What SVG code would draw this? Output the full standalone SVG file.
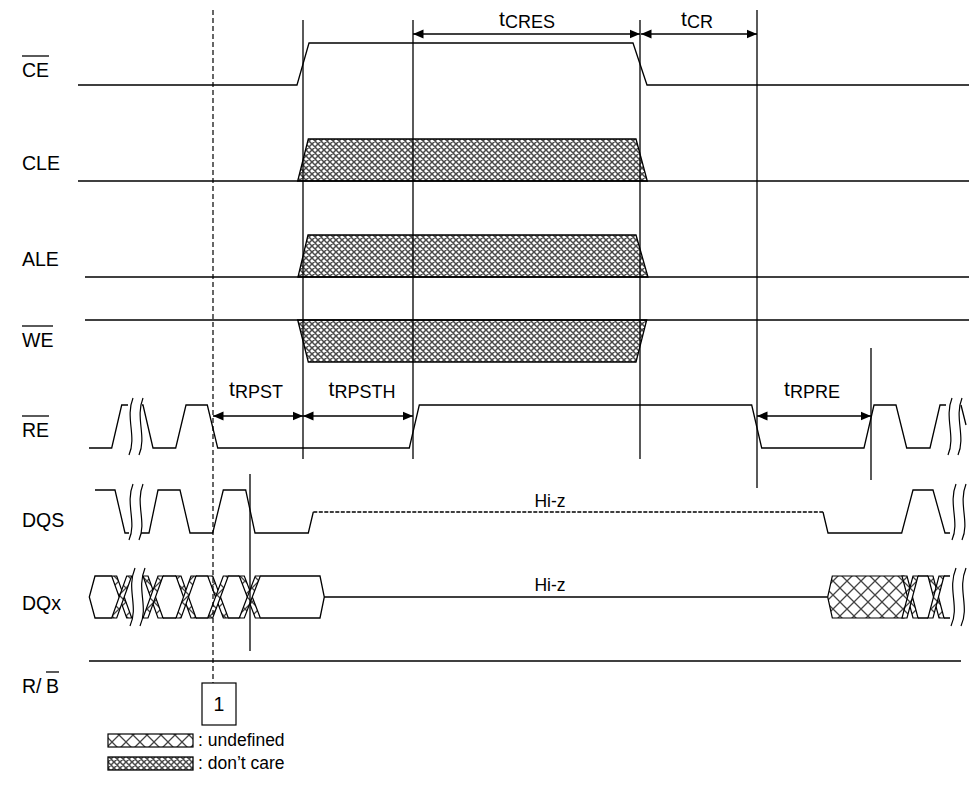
<svg xmlns="http://www.w3.org/2000/svg" width="969" height="789" viewBox="0 0 969 789">
<style>
.w{fill:none;stroke:#000;stroke-width:1.3}
.v{stroke:#000;stroke-width:1.3;fill:none}
.lbl{font-family:"Liberation Sans",Arial,sans-serif;font-size:19.5px;fill:#000}
.txt{font-family:"Liberation Sans",Arial,sans-serif;font-size:17.5px;fill:#000}
.tl{font-family:"Liberation Sans",Arial,sans-serif;font-size:21px;fill:#000}
.sub{font-size:18px}
.dc{fill:url(#dc);stroke:#000;stroke-width:1.3}
.ud{fill:url(#ud);stroke:#000;stroke-width:1.2}
.sq{fill:none;stroke:#000;stroke-width:1.2}
.arr{stroke:#000;stroke-width:1.3;marker-start:url(#ah);marker-end:url(#ah)}
</style>
<defs>
<pattern id="dc" width="6" height="6" patternUnits="userSpaceOnUse">
<rect width="6" height="6" fill="#fff"/>
<path d="M0,0 L6,6 M6,0 L0,6 M-1,5 L1,7 M5,-1 L7,1 M-1,1 L1,-1 M5,7 L7,5" stroke="#4a4a4a" stroke-width="1.5"/>
</pattern>
<pattern id="ud" width="14" height="14" patternUnits="userSpaceOnUse">
<rect width="14" height="14" fill="#fff"/>
<path d="M0,0 L14,14 M14,0 L0,14" stroke="#444" stroke-width="1.3"/>
</pattern>
<marker id="ah" markerWidth="11" markerHeight="10" refX="10.5" refY="5" orient="auto-start-reverse" markerUnits="userSpaceOnUse">
<path d="M0,0.5 L10.5,5 L0,9.5 z" fill="#000"/>
</marker>
</defs>

<g id="CE">
<text class="lbl" x="22" y="77">CE</text>
<line class="v" x1="22" y1="56" x2="49" y2="56"/>
<path class="w" d="M78,85 H297 L309,43 H633 L647,85 H969"/>
</g>

<g id="CLE">
<text class="lbl" x="22" y="170">CLE</text>
<polygon class="dc" points="297.7,181 308.3,139 636,139 647.3,181"/>
<path class="w" d="M78,181 H969"/>
</g>

<g id="ALE">
<text class="lbl" x="22" y="266">ALE</text>
<polygon class="dc" points="298,277 308,235 636,235 648,277"/>
<path class="w" d="M85,277 H969"/>
</g>

<g id="WE">
<text class="lbl" x="22" y="347">WE</text>
<line class="v" x1="22" y1="326" x2="53" y2="326"/>
<polygon class="dc" points="297.7,320 308.3,362 636,362 646.7,320"/>
<path class="w" d="M85,320 H969"/>
</g>

<g id="RE">
<text class="lbl" x="22" y="437">RE</text>
<line class="v" x1="22" y1="416" x2="49" y2="416"/>
<path class="w" d="M89,448 H111.7 L121.7,405 H128 M142,405 H143 L153,448 H175.7 L186,405 H207.3 L217.7,448 H409.3 L419.3,405 H751.7 L761.7,448 H864 L874,405 H896 L906.7,448 H930 L940,405 H946 M961,405 L966,425"/>
<path class="sq" d="M133,398 C125,418 137,436 129,455 M143,398 C135,418 147,436 139,455"/>
<path class="sq" d="M952,398 C944,418 956,436 948,455 M962,398 C954,418 966,436 958,455"/>
</g>

<g id="DQS">
<text class="lbl" x="22" y="527">DQS</text>
<path class="w" d="M95,490 H115 L125,533 H129 M141,533 H149 L158,490 H180 L190,533 H212.7 L223.3,490 H245.7 L255,533 H308.3 L313.3,512 M823,512 L828,533 H901.7 L913,490 H933 L945,533 H950"/>
<path d="M313.3,512 H823" stroke="#000" stroke-width="1.3" stroke-dasharray="4,1.5" fill="none"/>
<path class="sq" d="M133,484 C125,504 137,522 129,540 M143,484 C135,504 147,522 139,540"/>
<path class="sq" d="M956,484 C948,504 960,522 952,540 M966,484 C958,504 970,522 962,540"/>
<text class="txt" x="550" y="507" text-anchor="middle">Hi-z</text>
</g>

<g id="DQx">
<text class="lbl" x="22" y="610">DQx</text>
<path class="w" d="M111.7,576 H95 L89.3,597 L95,618 H111.7 M163,576 H176 M163,618 H176 M196,576 H207.7 M196,618 H207.7 M228.3,576 H239.3 M228.3,618 H239.3 M260.3,576 H320 L324.3,597 L320,618 H260.3 M324.3,597 H827.7 M918,576 H928 M918,618 H928 M944,576 H950 M944,618 H950"/>
<polygon class="ud" points="827.7,597 832.3,576 904,576 910,597 904,618 832.3,618"/>
<g class="ud">
<polygon points="111.7,576 116.7,576 131.7,618 126.7,618"/><polygon points="126.7,576 131.7,576 116.7,618 111.7,618"/>
<polygon points="143,576 148,576 163,618 158,618"/><polygon points="158,576 163,576 148,618 143,618"/>
<polygon points="176,576 181,576 196,618 191,618"/><polygon points="191,576 196,576 181,618 176,618"/>
<polygon points="207.7,576 212.7,576 228.3,618 223.3,618"/><polygon points="223.3,576 228.3,576 212.7,618 207.7,618"/>
<polygon points="239.3,576 244.3,576 260.3,618 255.3,618"/><polygon points="255.3,576 260.3,576 244.3,618 239.3,618"/>
<polygon points="902,576 907,576 918,618 913,618"/><polygon points="913,576 918,576 907,618 902,618"/>
<polygon points="928,576 933,576 944,618 939,618"/><polygon points="939,576 944,576 933,618 928,618"/>
</g>
<path class="sq" d="M135,568 C126,590 139,606 130,626 M145,568 C136,590 149,606 140,626"/>
<path class="sq" d="M956,568 C947,590 960,606 951,626 M966,568 C957,590 970,606 961,626"/>
<text class="txt" x="550" y="591" text-anchor="middle">Hi-z</text>
</g>

<g id="RB">
<text class="lbl" x="22" y="693">R/</text>
<text class="lbl" x="46" y="693">B</text>
<line class="v" x1="46" y1="672" x2="59" y2="672"/>
<path class="w" d="M89,661 H961"/>
</g>

<g id="connectors">
<line class="v" x1="303" y1="20" x2="303" y2="459"/>
<line class="v" x1="413" y1="20" x2="413" y2="459"/>
<line class="v" x1="640" y1="20" x2="640" y2="459"/>
<line class="v" x1="757" y1="10" x2="757" y2="488"/>
<line class="v" x1="871" y1="348" x2="871" y2="480"/>
<line class="v" x1="250" y1="474" x2="250" y2="651"/>
<line x1="213" y1="10" x2="213" y2="683" stroke="#000" stroke-width="1.2" stroke-dasharray="5,3"/>
<line class="arr" x1="413" y1="34" x2="640" y2="34"/>
<line class="arr" x1="641" y1="34" x2="757" y2="34"/>
<line class="arr" x1="213" y1="416" x2="303" y2="416"/>
<line class="arr" x1="303" y1="416" x2="413" y2="416"/>
<line class="arr" x1="757" y1="416" x2="871" y2="416"/>
</g>

<g id="timing-labels">
<text class="tl" x="527" y="26" text-anchor="middle">t<tspan class="sub" dy="2">CRES</tspan></text>
<text class="tl" x="697" y="26" text-anchor="middle">t<tspan class="sub" dy="2">CR</tspan></text>
<text class="tl" x="256" y="396" text-anchor="middle">t<tspan class="sub" dy="2">RPST</tspan></text>
<text class="tl" x="362" y="396" text-anchor="middle">t<tspan class="sub" dy="2">RPSTH</tspan></text>
<text class="tl" x="812" y="396" text-anchor="middle">t<tspan class="sub" dy="2">RPRE</tspan></text>
</g>

<g id="note1">
<rect x="202" y="683" width="34" height="42" fill="#fff" stroke="#000" stroke-width="1.2"/>
<text class="lbl" x="219" y="711" text-anchor="middle">1</text>
</g>

<g id="legend">
<rect class="ud" x="108" y="734" width="85" height="13"/>
<text class="txt" x="198" y="746">: undefined</text>
<rect class="dc" x="108" y="757" width="85" height="13"/>
<text class="txt" x="198" y="769">: don’t care</text>
</g>
</svg>
